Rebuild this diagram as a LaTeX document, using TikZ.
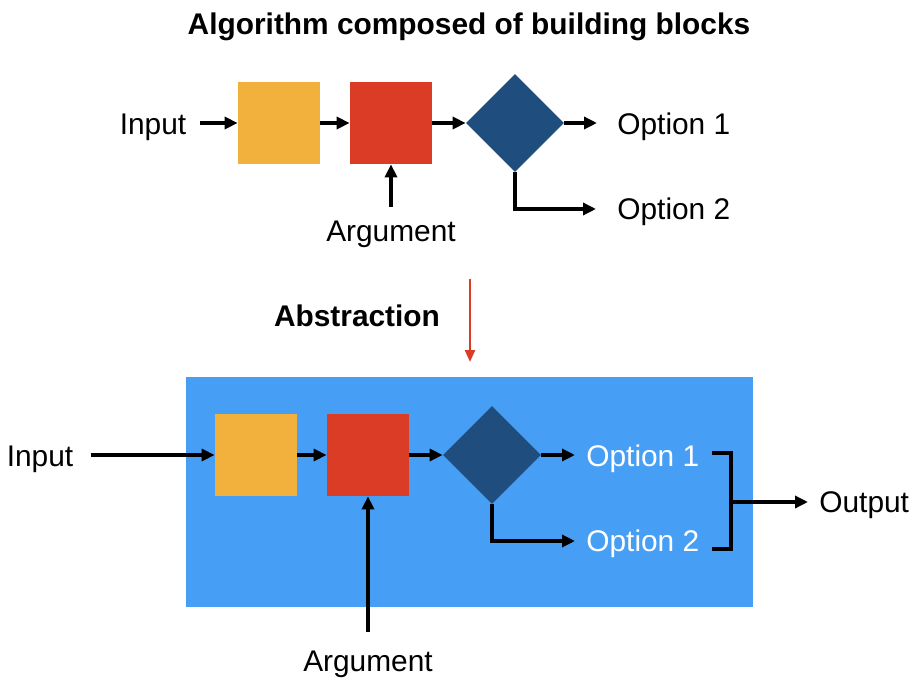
\documentclass[tikz,border=0pt]{standalone}
\usepackage{fontspec}
\setmainfont{Liberation Sans}
\usepackage{tikz}
\usetikzlibrary{arrows.meta,shapes.geometric}
\definecolor{blockorange}{RGB}{241,177,60}
\definecolor{blockred}{RGB}{218,60,38}
\definecolor{blocknavy}{RGB}{31,78,126}
\definecolor{boxblue}{RGB}{71,159,245}

\begin{document}
\begin{tikzpicture}[x=0.02cm, y=-0.02cm,
							every node/.style={font=\fontsize{17}{20}\selectfont, inner sep=0pt, text height=12.2pt, text depth=0pt},
							heading/.style={font=\fontsize{17}{20}\selectfont\bfseries},
							blk/.style={minimum size=1.64cm},
							dec/.style={diamond, aspect=1, fill=blocknavy, minimum width=1.96cm, minimum height=1.96cm},
							%link/.style={line width=1.7pt},
							arr/.style={line width=2pt, -{Triangle[length=0.26cm,width=0.24cm]}},
							redarr/.style={line width=1.3pt, color=blockred, -{Triangle[length=0.24cm,width=0.2cm]}}]
		\useasboundingbox (0,0) rectangle (917,682);
		% building blocks
		\node[heading] (title) at (469,24) {Algorithm composed of building blocks};
		\node (in1) at (153,124) {Input};
		\node[blk, fill=blockorange] (or1) at (279,123) {};
		\node[blk, fill=blockred] (rd1) at (391,123) {};
		\node[dec] (dm1) at (515,123) {};
		\node[anchor=west] (o11) at (617,124) {Option 1};
		\node[anchor=west] (o12) at (617,209) {Option 2};
		\node (arg1) at (391,231) {Argument};
		\draw[arr, shorten <=0.26cm] (in1.east |- or1) -- (or1.west);
		\draw[arr] (or1.east) -- (rd1.west);
		\draw[arr] (rd1.east) -- (dm1.west);
		\draw[arr, shorten >=0.4cm] (dm1.east) -- (o11.west |- dm1);
		\draw[arr, shorten >=0.42cm] (dm1.south) |- (o12.west);
		\draw[arr, shorten <=0.26cm] (arg1.north) -- (rd1.south);
		% abstraction
		\node[heading] (abs) at (357,316) {Abstraction};
		\coordinate (absA) at (470,279);
		\coordinate (absB) at (470,362);
		\draw[redarr] (absA) -- (absB);
		\fill[boxblue] (186,377) rectangle (753,607);
		\node (in2) at (40,456) {Input};
		\node[blk, fill=blockorange] (or2) at (256,455) {};
		\node[blk, fill=blockred] (rd2) at (368,455) {};
		\node[dec] (dm2) at (492,455) {};
		\node[anchor=west, text=white] (o21) at (586,456) {Option 1};
		\node[anchor=west, text=white] (o22) at (586,541) {Option 2};
		\node[anchor=west] (out) at (819,502) {Output};
		\node (arg2) at (368,661) {Argument};
		\coordinate (bt) at (712,453);
		\coordinate (bb) at (712,549);
		\coordinate (brk) at (731,502);
		\draw[arr, shorten <=0.34cm] (in2.east |- or2) -- (or2.west);
		\draw[arr] (or2.east) -- (rd2.west);
		\draw[arr] (rd2.east) -- (dm2.west);
		\draw[arr, shorten >=0.22cm] (dm2.east) -- (o21.west |- dm2);
		\draw[arr, shorten >=0.22cm] (dm2.south) |- (o22.west);
		\draw[line width=2pt] (bt) -| (brk) |- (bb);
		\draw[arr, shorten >=0.22cm] (brk) -- (out.west);
		\draw[arr, shorten <=0.36cm] (arg2.north) -- (rd2.south);
\end{tikzpicture}
\end{document}
